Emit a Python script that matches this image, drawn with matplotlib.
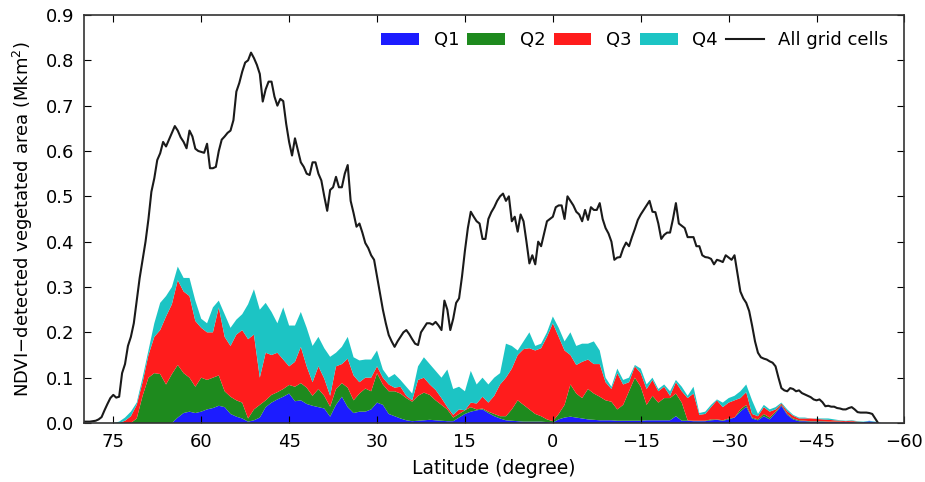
import numpy as np
import matplotlib
matplotlib.use("Agg")
import matplotlib.pyplot as plt

# Latitude (degree), 1-degree steps from 80N to 56S (quartile stacks)
lat = np.arange(80, -57, -1)
# Latitude (degree), 0.5-degree steps for the all-grid-cells curve
lat_fine = np.arange(80, -56, -0.5)

# All grid cells (Mkm^2), 0.5-degree steps
total = [0.003, 0.003, 0.003, 0.004, 0.005, 0.008, 0.013, 0.028, 0.042, 0.055,
         0.062, 0.056, 0.058, 0.11, 0.13, 0.17, 0.19, 0.22, 0.27, 0.32,
         0.36, 0.40, 0.45, 0.51, 0.54, 0.58, 0.595, 0.62, 0.61, 0.625,
         0.64, 0.655, 0.645, 0.63, 0.62, 0.606, 0.645, 0.632, 0.605, 0.60,
         0.598, 0.596, 0.616, 0.562, 0.562, 0.565, 0.60, 0.625, 0.632, 0.64,
         0.645, 0.668, 0.731, 0.75, 0.775, 0.795, 0.80, 0.817, 0.805, 0.79,
         0.77, 0.709, 0.736, 0.753, 0.753, 0.72, 0.70, 0.715, 0.71, 0.66,
         0.62, 0.59, 0.628, 0.602, 0.575, 0.565, 0.55, 0.547, 0.575, 0.575,
         0.55, 0.535, 0.50, 0.468, 0.514, 0.52, 0.543, 0.52, 0.52, 0.55,
         0.569, 0.49, 0.463, 0.433, 0.44, 0.42, 0.397, 0.386, 0.37, 0.36,
         0.323, 0.286, 0.25, 0.22, 0.194, 0.18, 0.168, 0.18, 0.19, 0.20,
         0.205, 0.196, 0.185, 0.175, 0.172, 0.20, 0.21, 0.22, 0.22, 0.217,
         0.223, 0.215, 0.205, 0.27, 0.25, 0.205, 0.23, 0.265, 0.275, 0.323,
         0.38, 0.43, 0.466, 0.455, 0.445, 0.44, 0.406, 0.406, 0.45, 0.465,
         0.476, 0.49, 0.50, 0.506, 0.49, 0.50, 0.445, 0.455, 0.422, 0.46,
         0.445, 0.40, 0.352, 0.37, 0.35, 0.40, 0.39, 0.418, 0.445, 0.45,
         0.455, 0.476, 0.48, 0.48, 0.45, 0.50, 0.49, 0.48, 0.466, 0.46,
         0.445, 0.47, 0.448, 0.476, 0.47, 0.47, 0.485, 0.45, 0.43, 0.418,
         0.40, 0.36, 0.365, 0.366, 0.385, 0.398, 0.39, 0.41, 0.428, 0.448,
         0.46, 0.47, 0.48, 0.49, 0.466, 0.465, 0.44, 0.406, 0.415, 0.42,
         0.42, 0.45, 0.485, 0.44, 0.435, 0.43, 0.41, 0.41, 0.41, 0.39,
         0.39, 0.37, 0.366, 0.365, 0.362, 0.35, 0.36, 0.358, 0.355, 0.37,
         0.365, 0.36, 0.37, 0.33, 0.29, 0.275, 0.265, 0.247, 0.215, 0.18,
         0.155, 0.145, 0.142, 0.14, 0.136, 0.133, 0.125, 0.10, 0.077, 0.072,
         0.07, 0.077, 0.075, 0.07, 0.072, 0.066, 0.063, 0.06, 0.057, 0.052,
         0.05, 0.052, 0.046, 0.037, 0.038, 0.036, 0.036, 0.033, 0.032, 0.03,
         0.03, 0.033, 0.035, 0.03, 0.024, 0.023, 0.023, 0.023, 0.022, 0.02,
         0.01, 0.0]

q1 = [0, 0, 0, 0, 0, 0, 0, 0, 0, 0,
      0, 0, 0, 0, 0, 0, 0.012, 0.022, 0.025, 0.022,
      0.025, 0.03, 0.033, 0.038, 0.035, 0.02, 0.014, 0.01, 0.003, 0.006,
      0.012, 0.035, 0.045, 0.052, 0.058, 0.065, 0.048, 0.05, 0.042, 0.038,
      0.035, 0.032, 0.014, 0.04, 0.058, 0.035, 0.022, 0.025, 0.025, 0.03,
      0.045, 0.04, 0.02, 0.015, 0.01, 0.006, 0.004, 0.005, 0.006, 0.007,
      0.006, 0.005, 0.004, 0.004, 0.012, 0.02, 0.025, 0.028, 0.03, 0.022,
      0.015, 0.01, 0.006, 0.005, 0.004, 0.003, 0.003, 0.003, 0.003, 0.002,
      0.001, 0.008, 0.012, 0.014, 0.012, 0.01, 0.008, 0.007, 0.006, 0.006,
      0.006, 0.005, 0.005, 0.005, 0.005, 0.005, 0.006, 0.006, 0.006, 0.006,
      0.006, 0.015, 0.005, 0.005, 0.004, 0.004, 0.004, 0.006, 0.007, 0.005,
      0.008, 0.012, 0.025, 0.036, 0.01, 0.006, 0.015, 0.008, 0.022, 0.038,
      0.018, 0.008, 0.004, 0.004, 0.003, 0.003, 0.003, 0.002, 0.002, 0.002,
      0.002, 0.002, 0.001, 0.002, 0.004, 0.002, 0]

q2 = [0, 0, 0, 0, 0, 0, 0, 0, 0, 0.01,
      0.06, 0.10, 0.11, 0.108, 0.085, 0.108, 0.116, 0.088, 0.075, 0.058,
      0.075, 0.065, 0.067, 0.067, 0.035, 0.038, 0.036, 0.035, 0.007, 0.024,
      0.028, 0.015, 0.017, 0.016, 0.017, 0.019, 0.032, 0.038, 0.036, 0.022,
      0.04, 0.028, 0.022, 0.035, 0.03, 0.043, 0.028, 0.04, 0.051, 0.04,
      0.065, 0.045, 0.05, 0.055, 0.055, 0.049, 0.043, 0.055, 0.061, 0.055,
      0.044, 0.035, 0.026, 0.008, 0.008, 0.008, 0.01, 0.002, 0.002, 0.003,
      0.005, 0.005, 0.009, 0.025, 0.046, 0.037, 0.027, 0.017, 0.012, 0.006,
      0.003, 0.012, 0.028, 0.071, 0.053, 0.045, 0.067, 0.058, 0.052, 0.044,
      0.041, 0.025, 0.035, 0.065, 0.095, 0.075, 0.034, 0.054, 0.039, 0.049,
      0.049, 0.05, 0.04, 0.001, 0.001, 0.001, 0.001, 0.002, 0.001, 0.001,
      0.002, 0.0, 0.005, 0.004, 0.002, 0.002, 0.005, 0.004, 0.003, 0.002,
      0.002, 0.002, 0.002, 0.001, 0.001, 0.001, 0.001, 0.001, 0.001, 0.001,
      0.0, 0.001, 0.001, 0.0, 0.0, 0.0, 0]

q3 = [0, 0, 0, 0, 0, 0, 0, 0.005, 0.015, 0.03,
      0.03, 0.05, 0.08, 0.097, 0.15, 0.154, 0.187, 0.18, 0.18, 0.145,
      0.11, 0.105, 0.10, 0.15, 0.12, 0.112, 0.145, 0.16, 0.175, 0.165,
      0.06, 0.105, 0.088, 0.087, 0.065, 0.041, 0.055, 0.08, 0.047, 0.03,
      0.05, 0.038, 0.024, 0.05, 0.042, 0.064, 0.055, 0.025, 0.024, 0.03,
      0.015, 0.015, 0.015, 0.008, 0.015, 0.005, 0.003, 0.035, 0.033, 0.023,
      0.023, 0.015, 0.005, 0.006, 0.01, 0.0, 0.01, 0.013, 0.026, 0.02,
      0.04, 0.07, 0.085, 0.09, 0.10, 0.123, 0.135, 0.14, 0.15, 0.182,
      0.216, 0.17, 0.12, 0.065, 0.063, 0.08, 0.065, 0.065, 0.072, 0.04,
      0.028, 0.08, 0.045, 0.02, 0.025, 0.03, 0.035, 0.035, 0.025, 0.025,
      0.005, 0.025, 0.025, 0.049, 0.06, 0.013, 0.015, 0.027, 0.042, 0.029,
      0.035, 0.038, 0.025, 0.028, 0.008, 0.007, 0.015, 0.013, 0.005, 0.003,
      0.006, 0.006, 0.004, 0.005, 0.006, 0.005, 0.004, 0.004, 0.003, 0.002,
      0.002, 0.002, 0.001, 0.0, 0.0, 0.0, 0]

q4 = [0, 0, 0, 0, 0, 0, 0.003, 0.007, 0.01, 0.005,
      0.01, 0.01, 0.03, 0.06, 0.045, 0.038, 0.03, 0.03, 0.04, 0.045,
      0.02, 0.02, 0.055, 0.015, 0.05, 0.04, 0.033, 0.035, 0.077, 0.10,
      0.15, 0.11, 0.095, 0.065, 0.115, 0.09, 0.08, 0.077, 0.085, 0.08,
      0.065, 0.067, 0.086, 0.03, 0.038, 0.048, 0.04, 0.048, 0.04, 0.04,
      0.035, 0.018, 0.015, 0.03, 0.015, 0.02, 0.015, 0.03, 0.045, 0.045,
      0.042, 0.045, 0.083, 0.057, 0.05, 0.042, 0.07, 0.042, 0.042, 0.04,
      0.04, 0.025, 0.075, 0.05, 0.01, 0.017, 0.035, 0.01, 0.01, 0.01,
      0.015, 0.02, 0.02, 0.05, 0.042, 0.04, 0.035, 0.05, 0.03, 0.01,
      0.005, 0.01, 0.01, 0.01, 0.003, 0.01, 0.01, 0.005, 0.005, 0.005,
      0.01, 0.005, 0.01, 0.005, 0.015, 0.004, 0.005, 0.005, 0.002, 0.01,
      0.01, 0.01, 0.015, 0.017, 0.03, 0.005, 0.005, 0.005, 0.005, 0.002,
      0.004, 0.002, 0.002, 0.002, 0.0, 0.001, 0.002, 0.003, 0.002, 0.001,
      0.001, 0.001, 0.001, 0.001, 0.001, 0.001, 0]

labels = ["Q1", "Q2", "Q3", "Q4"]
colors = ["#1c1cff", "#1e8a1e", "#ff1c1c", "#1cc4c4"]
xticks = [75, 60, 45, 30, 15, 0, -15, -30, -45, -60]
yticks = [0.0, 0.1, 0.2, 0.3, 0.4, 0.5, 0.6, 0.7, 0.8, 0.9]

plt.rcParams["font.family"] = ["DejaVu Sans"]
plt.rcParams["axes.unicode_minus"] = True

fig = plt.figure(figsize=(9.25, 4.82), dpi=100)
ax = fig.add_axes([0.0908, 0.1224, 0.887, 0.8465])

ax.stackplot(lat, q1, q2, q3, q4, colors=colors, labels=labels, linewidth=0)
ax.plot(lat_fine, total, color="#1a1a1a", lw=1.5, label="All grid cells")

ax.set_xlim(80, -60)
ax.set_ylim(0, 0.9)
ax.set_xticks(xticks)
ax.set_yticks(yticks)
ax.set_xticklabels([str(t).replace("-", "\u2212") for t in xticks])
ax.set_yticklabels(["%.1f" % t for t in yticks])
ax.tick_params(direction="in", top=True, right=True, length=5, labelsize=13, pad=7)
for s in ax.spines.values():
    s.set_linewidth(1.2)
    s.set_color("#333333")

ax.set_xlabel("Latitude (degree)", fontsize=13.5, labelpad=6)
ax.set_ylabel("NDVI\u2212detected vegetated area (Mkm$^2$)", fontsize=13, labelpad=8)

ax.legend(loc="upper right", ncol=5, frameon=False, fontsize=13,
          handlelength=2.1, handletextpad=0.8, columnspacing=0.45,
          borderaxespad=0.5)

fig.savefig("out.png", dpi=100)
